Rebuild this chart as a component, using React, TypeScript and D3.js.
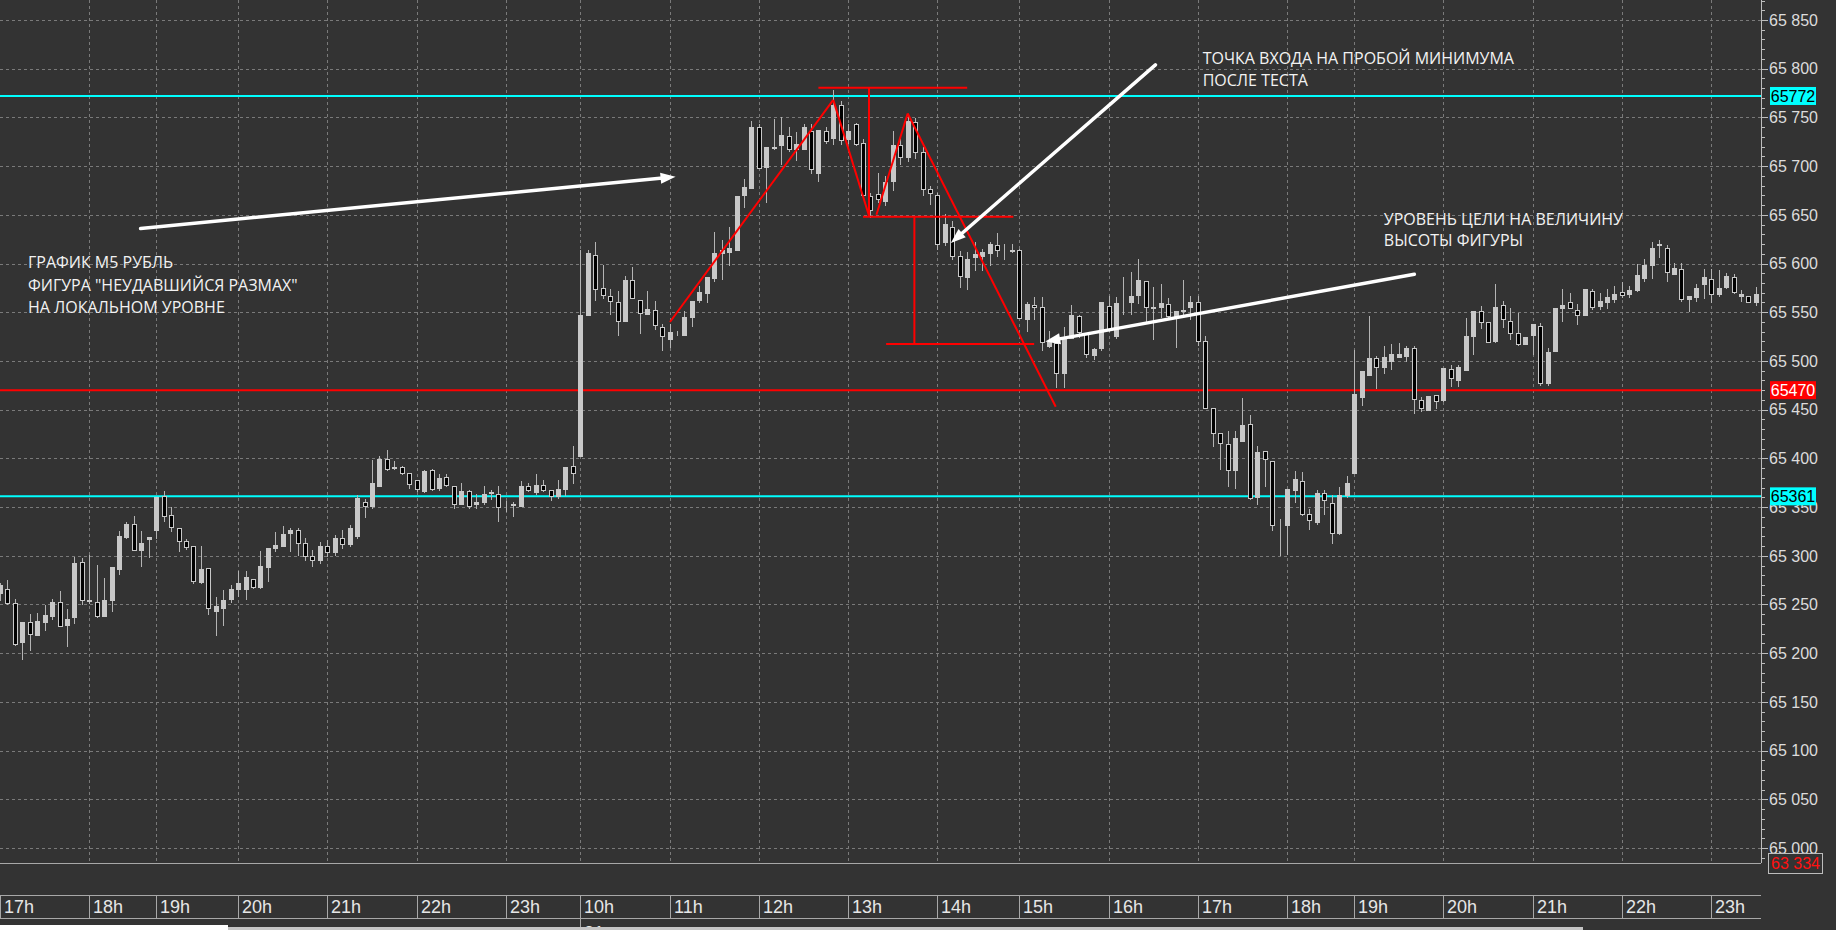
import * as d3 from "d3";

// M5 candles (price units)
const opens = [
  65262, 65266, 65251, 65211, 65232, 65219, 65232, 65238, 65253, 65229, 65237, 65294,
  65255, 65253, 65238, 65255, 65286, 65319, 65333, 65306, 65317,
  65326, 65361, 65342, 65329, 65315, 65310, 65273, 65287, 65243, 65246, 65256,
  65266, 65266, 65276, 65268, 65288, 65308, 65310, 65323, 65326, 65313, 65300, 65296,
  65310, 65304, 65318, 65312, 65320, 65355, 65351, 65372, 65399, 65391,
  65391, 65385, 65378, 65366, 65388, 65370, 65381, 65372, 65353, 65366, 65353, 65355,
  65364, 65363, 65352, 65352, 65351, 65372, 65365, 65373, 65368, 65361, 65369, 65392,
  65402, 65547, 65609, 65575, 65567, 65561, 65541, 65583, 65563, 65548, 65552, 65535,
  65523, 65529, 65527, 65545, 65563, 65570, 65585, 65611, 65612, 65614, 65670, 65678,
  65740, 65699, 65719, 65722, 65731, 65718, 65718, 65736, 65693, 65736, 65729, 65763,
  65728, 65743, 65724, 65669, 65671, 65664, 65685, 65722, 65709, 65745, 65715, 65676,
  65670, 65622, 65637, 65608, 65586, 65607, 65608, 65611, 65619, 65614, 65614,
  65614, 65543, 65557, 65555, 65515, 65518, 65488, 65524, 65546, 65528, 65506, 65513,
  65556, 65526, 65560, 65560, 65568, 65582, 65555, 65555, 65558, 65546, 65552, 65555,
  65561, 65520, 65452, 65426, 65415, 65388, 65418, 65435, 65360, 65408, 65397, 65332,
  65332, 65367, 65377, 65343, 65335, 65364, 65354, 65323, 65362,
  65385, 65463, 65486, 65503, 65494, 65500, 65504, 65505, 65513, 65460, 65450, 65465,
  65460, 65492, 65480, 65491, 65526, 65551, 65540, 65520, 65557, 65541, 65529, 65517,
  65527, 65536, 65477, 65510, 65554, 65560, 65552, 65547, 65572, 65556, 65560, 65564,
  65571, 65569, 65573, 65585, 65598, 65619, 65616, 65589, 65594, 65564, 65566, 65579,
  65584, 65569, 65576, 65586, 65567, 65567, 65560,
];
const highs = [
  65272, 65275, 65256, 65232, 65240, 65241, 65249, 65256, 65264, 65245, 65299, 65298,
  65301, 65291, 65277, 65288, 65325, 65335, 65341, 65325, 65319,
  65360, 65366, 65350, 65329, 65317, 65310, 65310, 65287, 65258, 65265, 65270,
  65284, 65284, 65276, 65305, 65308, 65324, 65331, 65329, 65329, 65318, 65306, 65314,
  65316, 65321, 65326, 65332, 65362, 65358, 65398, 65402, 65409, 65397,
  65392, 65385, 65378, 65388, 65389, 65384, 65384, 65372, 65375, 65367, 65363, 65372,
  65367, 65372, 65356, 65355, 65377, 65375, 65384, 65378, 65368, 65378, 65391, 65413,
  65614, 65614, 65622, 65598, 65574, 65572, 65587, 65596, 65563, 65572, 65562, 65538,
  65538, 65531, 65551, 65562, 65577, 65586, 65632, 65624, 65637, 65669, 65687, 65746,
  65743, 65720, 65748, 65750, 65740, 65735, 65743, 65743, 65737, 65740, 65778, 65767,
  65743, 65744, 65728, 65672, 65693, 65690, 65736, 65730, 65753, 65749, 65720, 65680,
  65672, 65651, 65644, 65613, 65612, 65622, 65615, 65622, 65631, 65620, 65620,
  65615, 65560, 65566, 65566, 65531, 65522, 65535, 65557, 65547, 65528, 65513, 65560,
  65567, 65566, 65586, 65591, 65605, 65582, 65576, 65579, 65565, 65551, 65583, 65567,
  65567, 65526, 65452, 65426, 65428, 65428, 65462, 65445, 65413, 65408, 65397, 65338,
  65369, 65387, 65386, 65348, 65367, 65367, 65362, 65371, 65382,
  65511, 65490, 65546, 65505, 65515, 65517, 65518, 65515, 65515, 65463, 65464, 65465,
  65493, 65496, 65496, 65544, 65551, 65556, 65540, 65579, 65562, 65554, 65549, 65525,
  65538, 65539, 65513, 65554, 65574, 65570, 65558, 65574, 65574, 65570, 65574, 65577,
  65581, 65577, 65600, 65605, 65622, 65624, 65619, 65601, 65601, 65567, 65579, 65594,
  65594, 65593, 65590, 65589, 65573, 65567, 65576,
];
const lows = [
  65255, 65250, 65208, 65194, 65203, 65219, 65224, 65235, 65228, 65207, 65231, 65250,
  65252, 65237, 65238, 65243, 65281, 65318, 65306, 65289, 65299,
  65318, 65336, 65325, 65305, 65307, 65272, 65272, 65240, 65219, 65229, 65253,
  65259, 65256, 65267, 65267, 65274, 65305, 65310, 65305, 65301, 65296, 65290, 65293,
  65300, 65301, 65308, 65310, 65318, 65340, 65349, 65372, 65388, 65389,
  65384, 65370, 65366, 65365, 65368, 65368, 65372, 65349, 65353, 65349, 65349, 65353,
  65358, 65336, 65346, 65341, 65351, 65366, 65363, 65366, 65357, 65359, 65362, 65375,
  65402, 65547, 65563, 65565, 65548, 65527, 65541, 65565, 65529, 65548, 65533, 65511,
  65514, 65527, 65527, 65536, 65560, 65560, 65582, 65584, 65598, 65614, 65658, 65678,
  65698, 65663, 65718, 65702, 65716, 65706, 65718, 65693, 65685, 65724, 65723, 65723,
  65724, 65722, 65670, 65648, 65663, 65660, 65675, 65702, 65705, 65708, 65670, 65661,
  65615, 65619, 65605, 65576, 65574, 65593, 65593, 65598, 65608, 65605, 65612,
  65544, 65531, 65543, 65511, 65514, 65473, 65473, 65524, 65525, 65504, 65502, 65511,
  65531, 65524, 65548, 65548, 65559, 65541, 65523, 65545, 65545, 65514, 65547, 65543,
  65516, 65452, 65413, 65389, 65372, 65370, 65418, 65358, 65353, 65372, 65326, 65301,
  65302, 65355, 65342, 65327, 65333, 65343, 65313, 65322, 65360,
  65385, 65455, 65486, 65472, 65488, 65492, 65504, 65500, 65447, 65449, 65450, 65452,
  65459, 65474, 65474, 65491, 65507, 65534, 65519, 65519, 65535, 65523, 65516, 65517,
  65507, 65475, 65475, 65510, 65541, 65554, 65538, 65547, 65553, 65553, 65554, 65561,
  65566, 65566, 65572, 65582, 65585, 65607, 65582, 65589, 65562, 65551, 65562, 65565,
  65561, 65567, 65575, 65570, 65562, 65560, 65557,
];
const closes = [
  65270, 65251, 65209, 65232, 65220, 65233, 65239, 65253, 65228, 65235, 65293, 65255,
  65254, 65238, 65255, 65288, 65320, 65333, 65306, 65313, 65319,
  65360, 65341, 65330, 65315, 65309, 65274, 65286, 65246, 65248, 65255, 65266,
  65272, 65278, 65268, 65289, 65308, 65311, 65322, 65326, 65313, 65300, 65296, 65310,
  65304, 65318, 65312, 65328, 65359, 65351, 65375, 65399, 65389, 65390,
  65385, 65374, 65369, 65387, 65369, 65380, 65373, 65353, 65366, 65351, 65355, 65363,
  65365, 65350, 65352, 65353, 65372, 65368, 65373, 65368, 65361, 65369, 65391, 65385,
  65547, 65611, 65574, 65568, 65562, 65541, 65583, 65565, 65549, 65553, 65537, 65526,
  65530, 65529, 65545, 65562, 65571, 65586, 65611, 65614, 65616, 65669, 65679, 65740,
  65698, 65720, 65720, 65732, 65718, 65723, 65740, 65697, 65737, 65726, 65763, 65727,
  65736, 65723, 65670, 65655, 65666, 65684, 65722, 65709, 65746, 65715, 65676, 65672,
  65620, 65641, 65608, 65587, 65605, 65610, 65612, 65620, 65614, 65614, 65613,
  65544, 65558, 65555, 65519, 65519, 65488, 65524, 65547, 65530, 65507, 65512, 65560,
  65533, 65559, 65561, 65567, 65583, 65555, 65554, 65559, 65546, 65551, 65551, 65560,
  65520, 65452, 65426, 65416, 65388, 65421, 65434, 65359, 65407, 65399, 65332, 65332,
  65369, 65379, 65343, 65337, 65364, 65357, 65323, 65362, 65375,
  65466, 65490, 65503, 65494, 65504, 65507, 65507, 65513, 65461, 65452, 65464, 65459,
  65493, 65482, 65494, 65526, 65551, 65540, 65519, 65555, 65543, 65529, 65517, 65525,
  65538, 65477, 65509, 65554, 65557, 65554, 65547, 65574, 65555, 65562, 65566, 65569,
  65568, 65573, 65588, 65599, 65616, 65620, 65591, 65595, 65564, 65567, 65575, 65586,
  65569, 65575, 65587, 65571, 65569, 65560, 65569,
];

const hourLabels = [
  "17h", "18h", "19h", "20h", "21h", "22h", "23h", "10h", "11h", "12h", "13h",
  "14h", "15h", "16h", "17h", "18h", "19h", "20h", "21h", "22h", "23h",
];
const hourCandleCounts = [12, 9, 11, 12, 12, 12, 10, 12, 12, 12, 12, 11, 12, 12, 12, 9, 12, 12, 12, 12, 7];

const priceTicks = [
  65000, 65050, 65100, 65150, 65200, 65250, 65300, 65350, 65400,
  65450, 65500, 65550, 65600, 65650, 65700, 65750, 65800, 65850,
];

const levels = [
  { price: 65772, color: "#00ffff", label: "65772", labelColor: "#000" },
  { price: 65470, color: "#ff0000", label: "65470", labelColor: "#fff" },
  { price: 65361, color: "#00ffff", label: "65361", labelColor: "#000" },
];
const bottomBadge = "63 334";

// figure drawn on the chart: [index1, price1, index2, price2]
const figureLines = [
  [90.05, 65540, 112, 65768],
  [112, 65768, 116.8, 65649],
  [117.8, 65650, 122, 65754],
  [122, 65754, 141.9, 65453],
  [110, 65780.5, 130, 65780.5],
  [116.8, 65780.5, 116.8, 65648],
  [116, 65648, 136.2, 65648],
  [122.9, 65648, 122.9, 65517.5],
  [119.1, 65517.5, 139, 65517.5],
];
const arrows = [
  [18.9, 65636, 90.8, 65689],
  [155.3, 65804, 127.8, 65621],
  [190.1, 65589, 140.5, 65520],
];
const notes = [
  { i: 3.76, p: [65595, 65572, 65549.5], lines: ["ГРАФИК М5 РУБЛЬ", "ФИГУРА \"НЕУДАВШИЙСЯ РАЗМАХ\"", "НА ЛОКАЛЬНОМ УРОВНЕ"] },
  { i: 161.65, p: [65804.8, 65782.5], lines: ["ТОЧКА ВХОДА НА ПРОБОЙ МИНИМУМА", "ПОСЛЕ ТЕСТА"] },
  { i: 186.0, p: [65639.5, 65618], lines: ["УРОВЕНЬ ЦЕЛИ НА ВЕЛИЧИНУ", "ВЫСОТЫ ФИГУРЫ"] },
];

const W = 1836;
const H = 930;
const PLOT_RIGHT = 1761;
const PLOT_BOTTOM = 863;
const STEP = 7.44;
const BG = "#333333";
const AXIS_FONT = "'Liberation Sans', Arial, sans-serif";

const fmtPrice = (v: number) => `${Math.floor(v / 1000)} ${String(v % 1000).padStart(3, "0")}`;

export default function App() {
  const n = opens.length;
  const x = d3.scaleLinear().domain([0, n - 1]).range([0, (n - 1) * STEP]);
  const y = d3.scaleLinear().domain([65000, 65850]).range([848, 20]);
  const px = (i: number) => Math.round(x(i));
  const py = (p: number) => Math.round(y(p));

  const hourStarts = Array.from(d3.cumsum([0, ...hourCandleCounts.slice(0, -1)]));
  const minorTicks = d3.range(64990, 65880, 10);

  const candles = d3.range(n).map((i) => {
    const o = opens[i], c = closes[i];
    const cx = px(i);
    const top = py(Math.max(o, c));
    const bot = py(Math.min(o, c));
    const bull = c >= o;
    return (
      <g key={i}>
        <line x1={cx + 0.5} x2={cx + 0.5} y1={py(highs[i])} y2={py(lows[i]) + 1} stroke="#b4b4b4" />
        <rect
          x={cx - 1.5}
          y={top + 0.5}
          width={4}
          height={Math.max(0, bot - top)}
          fill={bull ? "#c8c8c8" : "#000"}
          stroke="#c8c8c8"
        />
      </g>
    );
  });

  const arrowEls = arrows.map(([i1, p1, i2, p2], k) => {
    const x1 = x(i1), y1 = y(p1), x2 = x(i2), y2 = y(p2);
    const len = Math.hypot(x2 - x1, y2 - y1);
    const ux = (x2 - x1) / len, uy = (y2 - y1) / len;
    const hl = 15, hw = 5.5;
    const bx = x2 - ux * hl, by = y2 - uy * hl;
    const head = [
      [x2, y2],
      [bx - uy * hw, by + ux * hw],
      [bx + uy * hw, by - ux * hw],
    ];
    return (
      <g key={k}>
        <line x1={x1} y1={y1} x2={bx + ux * 2} y2={by + uy * 2} stroke="#fff" strokeWidth={3.5} strokeLinecap="round" />
        <polygon points={head.map((d) => d.join(",")).join(" ")} fill="#fff" />
      </g>
    );
  });

  return (
    <>
      <style>{`body{margin:0;background:${BG};}`}</style>
      <svg width={W} height={H} style={{ display: "block", background: BG }}>
        <rect width={W} height={H} fill={BG} />

        {/* grid */}
        <g stroke="#7a7a7a" strokeDasharray="3,3" shapeRendering="crispEdges">
          {priceTicks.map((t) => (
            <line key={t} x1={0} x2={PLOT_RIGHT} y1={py(t) + 0.5} y2={py(t) + 0.5} />
          ))}
          {hourStarts.slice(1).map((s) => (
            <line key={s} x1={px(s) + 0.5} x2={px(s) + 0.5} y1={0} y2={PLOT_BOTTOM} />
          ))}
        </g>

        {/* levels */}
        {levels.map((l) => (
          <line key={l.price} x1={0} x2={PLOT_RIGHT} y1={y(l.price)} y2={y(l.price)} stroke={l.color} strokeWidth={2} />
        ))}

        <g shapeRendering="crispEdges">{candles}</g>

        {/* figure */}
        <g stroke="#ff0000" strokeWidth={2}>
          {figureLines.map(([i1, p1, i2, p2], k) => (
            <line key={k} x1={x(i1)} y1={y(p1)} x2={x(i2)} y2={y(p2)} />
          ))}
        </g>

        {arrowEls}

        <g fontFamily="'Open Sans', sans-serif" fontSize={16} fill="#f2f2f2">
          {notes.map((nt, k) =>
            nt.lines.map((ln, j) => (
              <text key={`${k}-${j}`} x={x(nt.i)} y={y(nt.p[j])}>
                {ln}
              </text>
            ))
          )}
        </g>

        {/* right price axis */}
        <rect x={PLOT_RIGHT + 1} y={0} width={W - PLOT_RIGHT} height={H} fill={BG} />
        <line x1={PLOT_RIGHT + 0.5} x2={PLOT_RIGHT + 0.5} y1={0} y2={PLOT_BOTTOM} stroke="#bdbdbd" />
        <line x1={0} x2={PLOT_RIGHT} y1={PLOT_BOTTOM + 0.5} y2={PLOT_BOTTOM + 0.5} stroke="#a8a8a8" />
        <g stroke="#bdbdbd" shapeRendering="crispEdges">
          {minorTicks.map((t) => (
            <line key={t} x1={PLOT_RIGHT} x2={PLOT_RIGHT + (t % 50 === 0 ? 7 : 4)} y1={py(t) + 0.5} y2={py(t) + 0.5} />
          ))}
        </g>
        <g fontFamily={AXIS_FONT} fontSize={16} fill="#dcdcdc">
          {priceTicks.map((t) => (
            <text key={t} x={PLOT_RIGHT + 8} y={y(t)} dy="0.36em">
              {fmtPrice(t)}
            </text>
          ))}
        </g>
        {levels.map((l) => (
          <g key={l.price}>
            <rect x={1770} y={y(l.price) - 9} width={46} height={18} fill={l.color} />
            <text x={1793} y={y(l.price)} dy="0.36em" textAnchor="middle" fontFamily={AXIS_FONT} fontSize={16} fill={l.labelColor}>
              {l.label}
            </text>
          </g>
        ))}
        <rect x={1768.5} y={853.5} width={54} height={20} fill={BG} stroke="#bdbdbd" />
        <text x={1795.5} y={863.5} dy="0.36em" textAnchor="middle" fontFamily={AXIS_FONT} fontSize={16} fill="#ff1010">
          {bottomBadge}
        </text>

        {/* time axis */}
        <g stroke="#a8a8a8" shapeRendering="crispEdges">
          <line x1={0} x2={PLOT_RIGHT} y1={895.5} y2={895.5} />
          <line x1={0} x2={PLOT_RIGHT} y1={918.5} y2={918.5} />
          {hourStarts.map((s) => (
            <line key={s} x1={px(s) + 0.5} x2={px(s) + 0.5} y1={895} y2={918} />
          ))}
          <line x1={px(hourStarts[7]) + 0.5} x2={px(hourStarts[7]) + 0.5} y1={918} y2={H} />
        </g>
        <g fontFamily={AXIS_FONT} fontSize={18} fill="#e6e6e6">
          {hourLabels.map((h, k) => (
            <text key={k} x={px(hourStarts[k]) + 4} y={913}>
              {h}
            </text>
          ))}
          <text x={px(hourStarts[7]) + 4} y={939}>31</text>
        </g>
        <rect x={0} y={925} width={228} height={5} fill="#ffffff" />
        <rect x={228} y={927} width={1355} height={3} fill="#c4c4c4" />
      </svg>
    </>
  );
}
